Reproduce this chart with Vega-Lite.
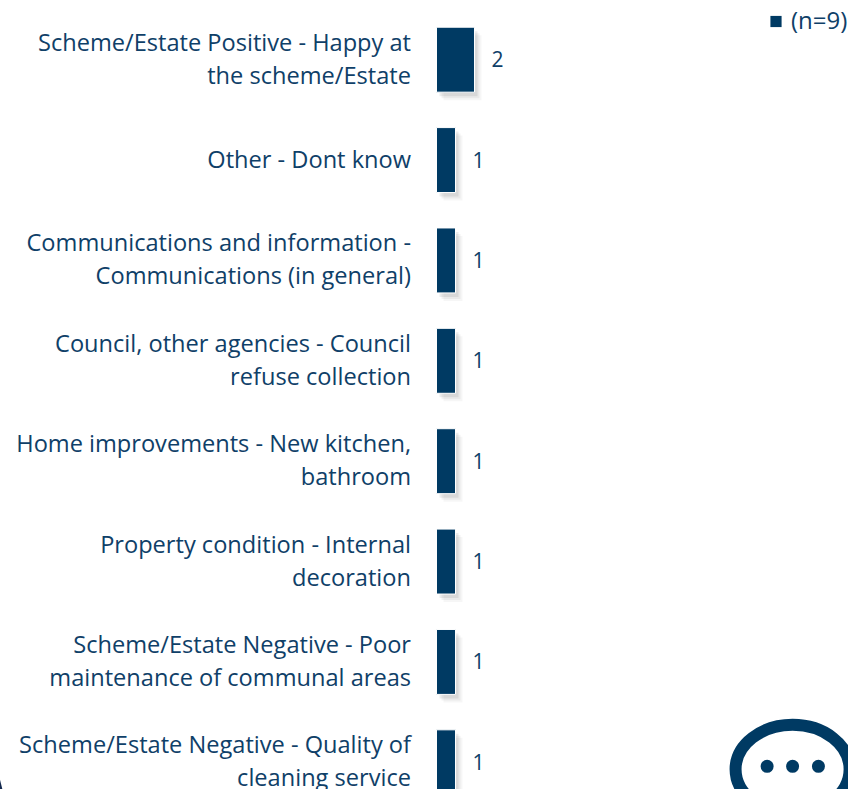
{
"$schema":"https://vega.github.io/schema/vega-lite/v6.json",
"autosize":{"type":"none"},
"padding":{"left":436.5,"top":9.5,"right":0,"bottom":0},
"width":411,"height":803,
"background":"white",
"config":{"view":{"stroke":null},"font":"Open Sans"},
"datasets":{
"rows":[
{"topic":"Scheme/Estate Positive - Happy at\nthe scheme/Estate","n":2,"series":"(n=9)"},
{"topic":"Other - Dont know","n":1,"series":"(n=9)"},
{"topic":"Communications and information -\nCommunications (in general)","n":1,"series":"(n=9)"},
{"topic":"Council, other agencies - Council\nrefuse collection","n":1,"series":"(n=9)"},
{"topic":"Home improvements - New kitchen,\nbathroom","n":1,"series":"(n=9)"},
{"topic":"Property condition - Internal\ndecoration","n":1,"series":"(n=9)"},
{"topic":"Scheme/Estate Negative - Poor\nmaintenance of communal areas","n":1,"series":"(n=9)"},
{"topic":"Scheme/Estate Negative - Quality of\ncleaning service","n":1,"series":"(n=9)"}
],
"bubble":[{"topic":"Scheme/Estate Negative - Quality of\ncleaning service","n":18.74}],
"dots":[
{"topic":"Scheme/Estate Negative - Quality of\ncleaning service","n":17.4},
{"topic":"Scheme/Estate Negative - Quality of\ncleaning service","n":18.74},
{"topic":"Scheme/Estate Negative - Quality of\ncleaning service","n":20.1}
],
"corner":[{"topic":"Scheme/Estate Negative - Quality of\ncleaning service","n":-23}]
},
"encoding":{
"y":{"field":"topic","type":"nominal","sort":null,"title":null,
"scale":{"paddingInner":0.353,"paddingOuter":0.1765},
"axis":{"domain":false,"ticks":false,"grid":false,"labelPadding":26,"labelLimit":0,"labelFontSize":23.6,"labelColor":"#0f4068","labelFont":"Open Sans","labelLineHeight":33,"labelExpr":"split(datum.value,'\\n')","labelOffset":{"expr":"indexof(datum.value,'\\n')>=0?-16:0.5"}}},
"x":{"field":"n","type":"quantitative","title":null,"scale":{"domain":[0,21.63],"nice":false},"axis":null}
},
"layer":[
{"data":{"name":"rows"},"mark":{"type":"bar","fill":"#000000","opacity":0.035,"xOffset":7,"yOffset":8}},
{"data":{"name":"rows"},"mark":{"type":"bar","fill":"#000000","opacity":0.05,"xOffset":5,"yOffset":6}},
{"data":{"name":"rows"},"mark":{"type":"bar","fill":"#000000","opacity":0.07,"xOffset":3,"yOffset":4}},
{"data":{"name":"rows"},"mark":{"type":"bar","stroke":"white","strokeWidth":1},
 "encoding":{"color":{"field":"series","type":"nominal","title":null,"scale":{"range":["#003a63"]},
  "legend":{"orient":"none","legendX":327.5,"legendY":0,"symbolType":"square","symbolSize":125,"labelFontSize":24,"labelColor":"#0f4068","labelFont":"Open Sans","symbolStrokeWidth":0,"labelOffset":3}}}},
{"data":{"name":"rows"},"mark":{"type":"text","align":"left","baseline":"middle","dx":17,"dy":1.5,"fontSize":21,"color":"#0f4068"},"encoding":{"text":{"field":"n","type":"quantitative"}}},
{"data":{"name":"bubble"},"mark":{"type":"point","filled":false,"stroke":"#003a63","strokeWidth":12,"opacity":1,"yOffset":7,"shape":"M-1,0A1,0.78 0 1,1 1,0A1,0.78 0 1,1 -1,0Z","size":13000}},
{"data":{"name":"dots"},"mark":{"type":"point","filled":true,"fill":"#003a63","opacity":1,"shape":"circle","size":170,"yOffset":4}},
{"data":{"name":"corner"},"mark":{"type":"point","filled":true,"fill":"#14294f","opacity":1,"clip":false,"shape":"M0,1L0.5,1L0,-1Z","size":130,"yOffset":21}}
]
}
